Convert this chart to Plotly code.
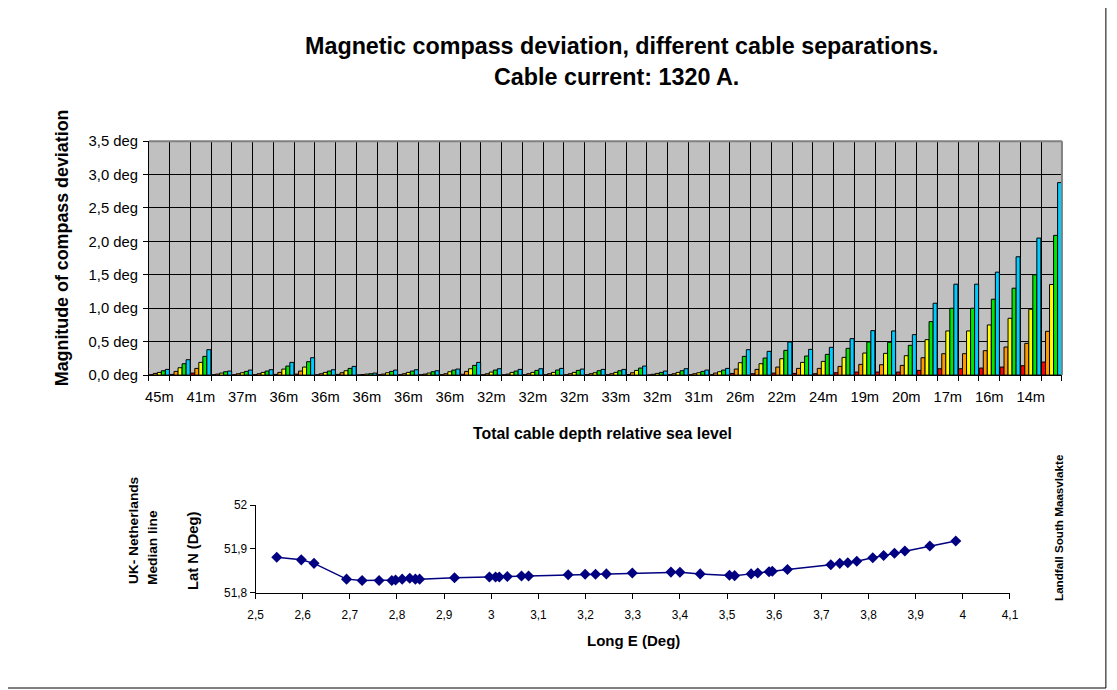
import plotly.graph_objects as go

# ---- Upper chart: compass deviation per route segment (5 cable separations) ----
depth_labels = ["45m", "41m", "37m", "36m", "36m", "36m", "36m", "36m", "32m", "32m", "32m",
                "33m", "32m", "31m", "26m", "22m", "24m", "19m", "20m", "17m", "16m", "14m"]
n_segments = 44

dev_red = [0.005, 0.01, 0.03, 0.005, 0.005, 0.005, 0.01, 0.015, 0.005, 0.01, 0.002,
           0.005, 0.005, 0.005, 0.005, 0.012, 0.005, 0.005, 0.005, 0.005, 0.005, 0.005,
           0.005, 0.008, 0.003, 0.005, 0.005, 0.005, 0.025, 0.02, 0.03, 0.025, 0.02,
           0.035, 0.045, 0.045, 0.045, 0.07, 0.095, 0.095, 0.105, 0.12, 0.14, 0.195]
dev_orange = [0.025, 0.055, 0.10, 0.015, 0.02, 0.02, 0.04, 0.06, 0.02, 0.035, 0.008,
              0.015, 0.02, 0.015, 0.02, 0.055, 0.02, 0.015, 0.02, 0.02, 0.02, 0.02,
              0.02, 0.035, 0.012, 0.02, 0.02, 0.03, 0.09, 0.085, 0.12, 0.10, 0.10,
              0.13, 0.16, 0.155, 0.145, 0.26, 0.32, 0.32, 0.365, 0.42, 0.475, 0.655]
dev_yellow = [0.04, 0.11, 0.19, 0.03, 0.035, 0.04, 0.09, 0.12, 0.04, 0.065, 0.015,
              0.035, 0.04, 0.03, 0.05, 0.095, 0.045, 0.04, 0.04, 0.04, 0.04, 0.035,
              0.04, 0.07, 0.025, 0.04, 0.035, 0.05, 0.185, 0.17, 0.245, 0.19, 0.205,
              0.265, 0.33, 0.325, 0.29, 0.53, 0.66, 0.66, 0.75, 0.85, 0.985, 1.355]
dev_green = [0.065, 0.17, 0.28, 0.05, 0.055, 0.06, 0.135, 0.20, 0.06, 0.10, 0.02,
             0.055, 0.06, 0.05, 0.075, 0.145, 0.075, 0.06, 0.07, 0.075, 0.07, 0.065,
             0.065, 0.105, 0.04, 0.065, 0.055, 0.075, 0.28, 0.255, 0.37, 0.285, 0.31,
             0.40, 0.495, 0.49, 0.445, 0.80, 1.0, 1.0, 1.135, 1.30, 1.50, 2.09]
dev_cyan = [0.085, 0.23, 0.38, 0.06, 0.075, 0.08, 0.19, 0.26, 0.08, 0.13, 0.03,
            0.075, 0.08, 0.065, 0.09, 0.19, 0.095, 0.085, 0.095, 0.10, 0.09, 0.085,
            0.085, 0.135, 0.06, 0.095, 0.075, 0.10, 0.38, 0.355, 0.495, 0.385, 0.415,
            0.545, 0.665, 0.66, 0.605, 1.075, 1.36, 1.36, 1.54, 1.77, 2.05, 2.88]

y_ticks = [0.0, 0.5, 1.0, 1.5, 2.0, 2.5, 3.0, 3.5]
y_ticktext = ["0,0 deg", "0,5 deg", "1,0 deg", "1,5 deg", "2,0 deg", "2,5 deg", "3,0 deg", "3,5 deg"]

# ---- Lower chart: cable route positions ----
long_e = [2.545, 2.597, 2.624, 2.693, 2.726, 2.762, 2.789, 2.797, 2.811, 2.827, 2.839, 2.848,
          2.922, 2.996, 3.009, 3.017, 3.034, 3.064, 3.079, 3.163, 3.199, 3.221, 3.244, 3.299,
          3.381, 3.400, 3.443, 3.505, 3.516, 3.551, 3.565, 3.589, 3.596, 3.628, 3.720, 3.739,
          3.756, 3.775, 3.809, 3.832, 3.855, 3.877, 3.930, 3.985]
lat_n = [51.881, 51.875, 51.867, 51.831, 51.828, 51.828, 51.828, 51.829, 51.831, 51.833, 51.831, 51.831,
         51.834, 51.836, 51.836, 51.836, 51.837, 51.838, 51.838, 51.841, 51.842, 51.842, 51.843, 51.845,
         51.847, 51.8465, 51.843, 51.840, 51.839, 51.843, 51.845, 51.848, 51.849, 51.853, 51.864, 51.867,
         51.8685, 51.872, 51.880, 51.885, 51.890, 51.895, 51.9065, 51.918]

lon_ticks = [2.5, 2.6, 2.7, 2.8, 2.9, 3.0, 3.1, 3.2, 3.3, 3.4, 3.5, 3.6, 3.7, 3.8, 3.9, 4.0, 4.1]
lon_ticktext = ["2,5", "2,6", "2,7", "2,8", "2,9", "3", "3,1", "3,2", "3,3", "3,4", "3,5",
                "3,6", "3,7", "3,8", "3,9", "4", "4,1"]
lat_ticks = [51.8, 51.9, 52.0]
lat_ticktext = ["51,8", "51,9", "52"]

FONT = "Arial, Liberation Sans, sans-serif"

# screen layout: the page body keeps an 8px margin and the page is shown scaled
VIEW_W, VIEW_H = 1117, 690
PAGE_MARGIN = 8
SX = VIEW_W / (VIEW_W + 2 * PAGE_MARGIN)
SY = VIEW_H / (VIEW_H + 2 * PAGE_MARGIN)
W, H = 1117, 698


def fx(px):
    return (px / SX - PAGE_MARGIN) / W


def fy(py):
    return 1 - (py / SY - PAGE_MARGIN) / H


def fs(size):
    # font size compensated for the page scaling
    return size / SX


seg = list(range(1, n_segments + 1))
label_pos = seg[0::2]
boundaries = [i + 0.5 for i in range(0, n_segments + 1)]

fig = go.Figure()

series = [(dev_red, "#FF0000"), (dev_orange, "#FF9900"), (dev_yellow, "#FFFF00"),
          (dev_green, "#00E600"), (dev_cyan, "#00CCFF")]
for vals, col in series:
    fig.add_trace(go.Bar(x=seg, y=vals, marker=dict(color=col, line=dict(color="#000000", width=1)),
                         xaxis="x", yaxis="y", showlegend=False))

fig.add_trace(go.Scatter(x=long_e, y=lat_n, mode="lines+markers",
                         line=dict(color="#000080", width=1.5),
                         marker=dict(symbol="diamond", size=8.5, color="#000080"),
                         xaxis="x2", yaxis="y2", showlegend=False))

fig.update_layout(
    width=W, height=H,
    margin=dict(l=0, r=0, t=0, b=0),
    paper_bgcolor="white", plot_bgcolor="white",
    barmode="group", bargap=0.03, bargroupgap=0,
    font=dict(family=FONT, color="black"),
    xaxis=dict(domain=[fx(149), fx(1063)], range=[0.5, n_segments + 0.5],
               tickmode="array", tickvals=label_pos, ticktext=depth_labels,
               ticks="", showgrid=False, zeroline=False,
               showline=True, linecolor="black", linewidth=1,
               tickfont=dict(size=fs(14.5)), ticklabelstandoff=8,
               minor=dict(tickmode="array", tickvals=boundaries, ticks="outside",
                          ticklen=5, tickcolor="black", showgrid=True,
                          gridcolor="#000000", gridwidth=1),
               anchor="y"),
    yaxis=dict(domain=[fy(375), fy(141)], range=[0, 3.5],
               tickmode="array", tickvals=y_ticks, ticktext=y_ticktext,
               ticks="outside", ticklen=5, tickcolor="black",
               showgrid=True, gridcolor="#000000", gridwidth=1, zeroline=False,
               showline=True, linecolor="black", linewidth=1,
               tickfont=dict(size=fs(14.6)), ticklabelstandoff=2, anchor="x"),
    xaxis2=dict(domain=[fx(255.7), fx(1011)], range=[2.5, 4.1],
                tickmode="array", tickvals=lon_ticks, ticktext=lon_ticktext,
                ticks="outside", ticklen=5, tickcolor="black",
                showgrid=False, zeroline=False,
                showline=True, linecolor="black", linewidth=1,
                tickfont=dict(size=fs(11.7)), ticklabelstandoff=6, anchor="y2"),
    yaxis2=dict(domain=[fy(592.7), fy(505)], range=[51.8, 52.0],
                tickmode="array", tickvals=lat_ticks, ticktext=lat_ticktext,
                ticks="outside", ticklen=5, tickcolor="black",
                showgrid=False, zeroline=False,
                showline=True, linecolor="black", linewidth=1,
                tickfont=dict(size=fs(11.7)), anchor="x2"),
)

shapes = [
    # grey plot area of the deviation chart
    dict(type="rect", xref="x domain", yref="y domain", x0=0, x1=1, y0=0, y1=1,
         fillcolor="#C0C0C0", line=dict(width=0), layer="below"),
    # grey frame on top and right of the plot area
    dict(type="line", xref="x domain", yref="y domain", x0=0, x1=1, y0=1, y1=1,
         line=dict(color="#808080", width=2)),
    dict(type="line", xref="x domain", yref="y domain", x0=1, x1=1, y0=0, y1=1,
         line=dict(color="#808080", width=2)),
    # chart border (right and bottom edges)
    dict(type="line", xref="paper", yref="paper", x0=fx(1107), x1=fx(1107), y0=fy(688), y1=1,
         line=dict(color="black", width=1)),
    dict(type="line", xref="paper", yref="paper", x0=0, x1=fx(1107), y0=fy(688), y1=fy(688),
         line=dict(color="black", width=1)),
]
fig.update_layout(shapes=shapes)

ann = [
    dict(text="<b>Magnetic compass deviation, different cable separations.</b>",
         x=fx(623), y=fy(46), font=dict(size=fs(23))),
    dict(text="<b>Cable current: 1320 A.</b>", x=fx(617), y=fy(77), font=dict(size=fs(23))),
    dict(text="<b>Magnitude of compass deviation</b>", x=fx(62), y=fy(248),
         textangle=-90, font=dict(size=fs(17.6))),
    dict(text="<b>Total cable depth relative sea level</b>", x=fx(603), y=fy(433),
         font=dict(size=fs(15.6))),
    dict(text="<b>Long E (Deg)</b>", x=fx(634), y=fy(640), font=dict(size=fs(14.8))),
    dict(text="<b>Lat N (Deg)</b>", x=fx(193), y=fy(551), textangle=-90, font=dict(size=fs(14.5))),
    dict(text="<b>UK- Netherlands</b>", x=fx(133), y=fy(530), textangle=-90, font=dict(size=fs(13.5))),
    dict(text="<b>Median line</b>", x=fx(152), y=fy(547), textangle=-90, font=dict(size=fs(13.5))),
    dict(text="<b>Landfall South Maasvlakte</b>", x=fx(1059), y=fy(527), textangle=-90,
         font=dict(size=fs(11.5))),
]
for a in ann:
    fig.add_annotation(xref="paper", yref="paper", showarrow=False,
                       xanchor="center", yanchor="middle", **a)

fig.write_html("out.html")
